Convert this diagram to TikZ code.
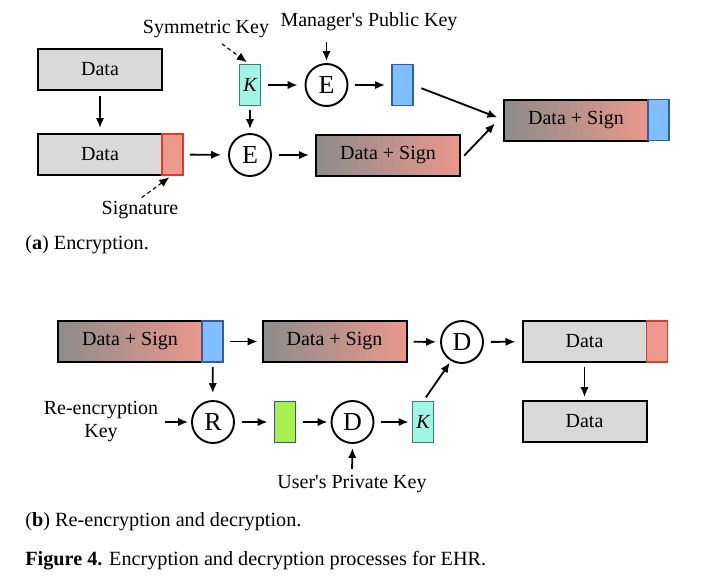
\documentclass[tikz,border=0pt]{standalone}
\usepackage{fontspec}
\setmainfont{Liberation Serif}
\newfontfamily\diagfont{Liberation Serif}
\usetikzlibrary{positioning,arrows.meta}
\definecolor{datagray}{RGB}{217,217,217}
\definecolor{shadegray}{RGB}{140,140,140}
\definecolor{shadered}{RGB}{234,152,138}
\definecolor{sigfill}{RGB}{237,153,141}
\definecolor{sigline}{RGB}{218,62,36}
\definecolor{bluefill}{RGB}{128,191,255}
\definecolor{blueline}{RGB}{52,92,160}
\definecolor{keyfill}{RGB}{160,246,230}
\definecolor{keyline}{RGB}{60,128,112}
\definecolor{greenfill}{RGB}{168,240,80}
\definecolor{greenline}{RGB}{48,92,140}

\begin{document}
\begin{tikzpicture}[x=0.5pt, y=-0.5pt, >={Latex[length=5pt,width=4.2pt]},
    box/.style={rectangle, draw, line width=1pt, minimum width=62pt, minimum height=20.5pt, inner sep=0pt, outer sep=0pt, font=\diagfont\fontsize{10}{12}\selectfont},
    databox/.style={box, fill=datagray},
    signbox/.style={box, minimum width=72pt, left color=shadegray, right color=shadered},
    tab/.style={rectangle, draw, line width=0.9pt, minimum width=10.5pt, minimum height=20.5pt, inner sep=0pt, outer sep=0pt, font=\diagfont\fontsize{10}{12}\selectfont\itshape},
    sigtab/.style={tab, fill=sigfill, draw=sigline},
    bluetab/.style={tab, fill=bluefill, draw=blueline},
    keytab/.style={tab, fill=keyfill, draw=keyline},
    greentab/.style={tab, fill=greenfill, draw=greenline},
    op/.style={circle, draw, line width=0.95pt, minimum size=21pt, inner sep=0pt, font=\diagfont\fontsize{13}{13}\selectfont},
    lbl/.style={font=\diagfont\fontsize{10}{11.5}\selectfont, align=center, inner sep=1pt},
    captext/.style={anchor=west, inner sep=0pt, font=\fontsize{10.1}{12}\selectfont},
    arr/.style={->, line width=0.9pt, shorten <=3.5pt, shorten >=3.5pt},
    dasharr/.style={->, line width=0.55pt, dash pattern=on 2pt off 1.5pt, shorten <=1pt, shorten >=2pt}]
    \useasboundingbox (0,0) rectangle (718,584);

    % (a) encryption
    \node [databox] (data1) at (100,69) {Data};
    \node [databox] (data2) at (100,154.5) {Data};
    \node [sigtab, right=0pt of data2] (sig) {};
    \node [op] (enc1) at (250,155) {E};
    \node [signbox] (ds1) at (388,155) {Data + Sign};
    \node [keytab] (key1) at (250,85) {K};
    \node [op] (enc2) at (326.5,85) {E};
    \node [bluetab] (pub1) at (402.5,85) {};
    \node [signbox] (ds2) at (576,120) {Data + Sign};
    \node [bluetab, right=0pt of ds2] (pub2) {};
    \node [lbl] (symkey) at (206,29) {Symmetric Key};
    \node [lbl] (mgrkey) at (369,22) {Manager's Public Key};
    \node [lbl] (signlbl) at (140,210) {Signature};
    \node [captext] (capa) at (25,245) {(\textbf{a}) Encryption.};

    \draw[arr, shorten <=3pt, shorten >=3pt] (data1) -- (data2);
    \draw[arr] (sig) -- (enc1);
    \draw[arr] (enc1) -- (ds1);
    \draw[arr, shorten <=2pt, shorten >=2pt] (key1) -- (enc1);
    \draw[arr] (key1) -- (enc2);
    \draw[arr] (enc2) -- (pub1);
    \draw[arr, shorten <=4.5pt] (pub1.east) -- (ds2.west);
    \draw[arr, shorten <=3pt, shorten >=6.5pt] ([yshift=-2.5pt]ds1.east) -- ([yshift=3pt]ds2.west);
    \draw[dasharr, shorten <=3pt] ([xshift=5.5pt]symkey.south) -- (key1.north);
    \draw[arr, shorten <=4.5pt, shorten >=1pt] (mgrkey.south -| enc2) -- (enc2.north);
    \draw[dasharr] (signlbl.north) -- (sig.south);

    % (b) re-encryption and decryption
    \node [signbox] (ds3) at (130,341.5) {Data + Sign};
    \node [bluetab, right=0pt of ds3] (pub3) {};
    \node [signbox] (ds4) at (334.5,341.5) {Data + Sign};
    \node [op] (dec1) at (462,342) {D};
    \node [databox] (data3) at (584.5,341.5) {Data};
    \node [sigtab, right=0pt of data3] (sig2) {};
    \node [databox] (data4) at (584.5,421.5) {Data};
    \node [op] (reenc) at (213,422) {R};
    \node [greentab] (green) at (285,422) {};
    \node [op] (dec2) at (352.5,422) {D};
    \node [keytab] (key2) at (423,422) {K};
    \node [lbl] (relbl) at (101,422) {Re-encryption\\Key};
    \node [lbl] (userkey) at (352,484) {User's Private Key};
    \node [captext] (capb) at (25,522) {(\textbf{b}) Re-encryption and decryption.};
    \node [captext] (figcap) at (25,561) {\textbf{Figure 4.} Encryption and decryption processes for EHR.};

    \draw[arr, shorten >=2.5pt] (pub3) -- (ds4);
    \draw[arr, shorten >=2pt] (ds4) -- (dec1);
    \draw[arr] (dec1) -- (data3);
    \draw[arr, shorten <=2.5pt, shorten >=2pt] (data3) -- (data4);
    \draw[arr, shorten <=2.5pt, shorten >=3.5pt] (pub3) -- (reenc);
    \draw[arr, shorten <=2pt, shorten >=1.5pt] (relbl.east) -- (reenc);
    \draw[arr] (reenc) -- (green);
    \draw[arr, shorten >=1.5pt] (green) -- (dec2);
    \draw[arr, shorten >=2pt] (dec2) -- (key2);
    \draw[arr, shorten <=2.5pt, shorten >=1pt] (key2.north) -- (dec1.240);
    \draw[arr, shorten <=2pt, shorten >=2pt] (userkey.north) -- (dec2.south);
\end{tikzpicture}
\end{document}
